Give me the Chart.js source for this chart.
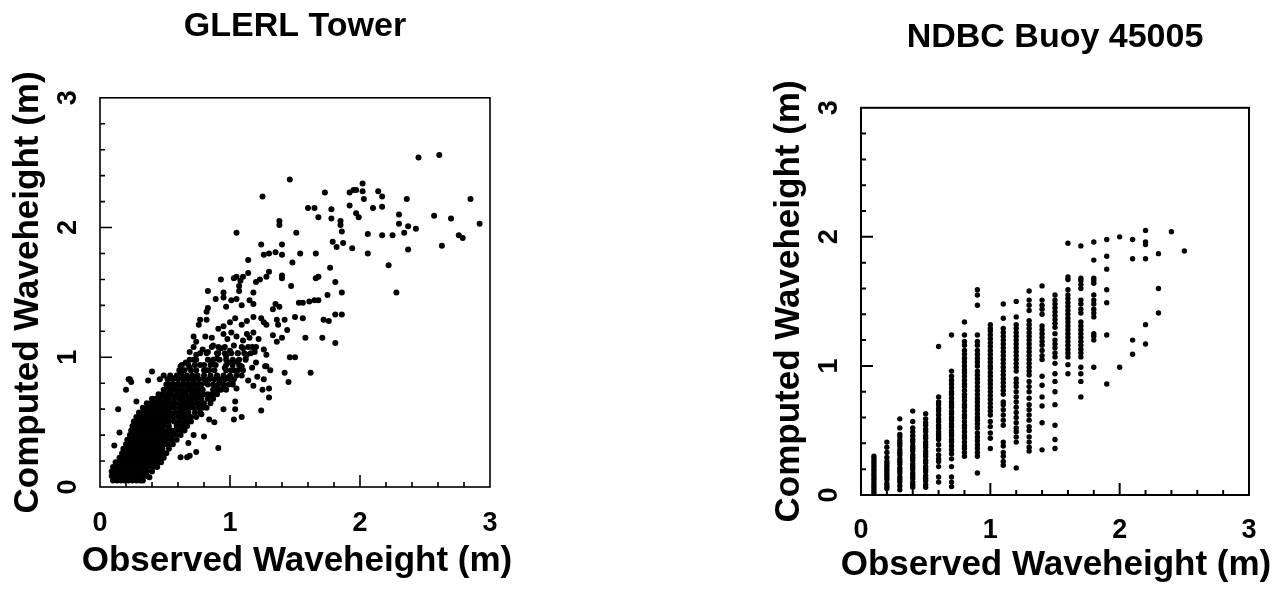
<!DOCTYPE html>
<html>
<head>
<meta charset="utf-8">
<script src="https://cdn.jsdelivr.net/npm/chart.js@4.4.0/dist/chart.umd.min.js"></script>
<style>
  body { margin: 0; background: #fff; width: 1282px; height: 590px; overflow: hidden; position: relative; }
  .box { position: absolute; top: 0; height: 590px; }
  #leftBox { left: 0; width: 560px; }
  #rightBox { left: 760px; width: 522px; }
</style>
</head>
<body>
<div class="box" id="leftBox"><canvas id="glerlChart"></canvas></div>
<div class="box" id="rightBox"><canvas id="buoyChart"></canvas></div>
<script>
// 左: GLERL Tower の散布図データ（密集部は行ごとに読み取り）
const glerlCoreY = [0.05, 0.085, 0.12, 0.155, 0.19, 0.225, 0.26, 0.295, 0.33, 0.365, 0.40, 0.435,
  0.47, 0.505, 0.54, 0.575, 0.61, 0.645, 0.68, 0.715, 0.75, 0.79, 0.83, 0.86, 0.90, 0.94, 0.98,
  1.03, 1.08];
const glerlCoreX = [
  [0.10, 0.13, 0.16, 0.19, 0.22, 0.25, 0.28, 0.31, 0.33],
  [0.09, 0.12, 0.15, 0.18, 0.21, 0.24, 0.27, 0.30, 0.33, 0.36],
  [0.09, 0.12, 0.15, 0.18, 0.21, 0.24, 0.27, 0.30, 0.33, 0.36, 0.40],
  [0.10, 0.13, 0.16, 0.19, 0.22, 0.25, 0.28, 0.31, 0.34, 0.37, 0.41, 0.44],
  [0.12, 0.15, 0.18, 0.21, 0.24, 0.27, 0.30, 0.33, 0.36, 0.39, 0.42, 0.45, 0.47],
  [0.15, 0.18, 0.21, 0.24, 0.27, 0.30, 0.33, 0.36, 0.39, 0.42, 0.45, 0.49],
  [0.17, 0.20, 0.23, 0.26, 0.29, 0.32, 0.35, 0.38, 0.41, 0.44, 0.47, 0.51],
  [0.18, 0.21, 0.24, 0.27, 0.30, 0.33, 0.36, 0.39, 0.42, 0.45, 0.48, 0.53],
  [0.20, 0.23, 0.26, 0.29, 0.32, 0.35, 0.38, 0.41, 0.44, 0.47, 0.50, 0.53, 0.56],
  [0.21, 0.24, 0.27, 0.30, 0.33, 0.36, 0.39, 0.42, 0.45, 0.48, 0.51, 0.55, 0.59],
  [0.23, 0.26, 0.29, 0.32, 0.35, 0.38, 0.41, 0.44, 0.47, 0.50, 0.53, 0.56, 0.59, 0.62],
  [0.24, 0.27, 0.30, 0.33, 0.36, 0.39, 0.42, 0.45, 0.48, 0.52, 0.55, 0.58, 0.62, 0.65],
  [0.25, 0.28, 0.31, 0.34, 0.37, 0.40, 0.43, 0.46, 0.49, 0.53, 0.59, 0.62, 0.65, 0.67],
  [0.26, 0.29, 0.32, 0.35, 0.38, 0.41, 0.44, 0.47, 0.50, 0.53, 0.57, 0.61, 0.64, 0.67, 0.70],
  [0.28, 0.31, 0.34, 0.37, 0.40, 0.43, 0.46, 0.49, 0.52, 0.56, 0.60, 0.63, 0.66, 0.70, 0.74],
  [0.30, 0.33, 0.36, 0.39, 0.42, 0.45, 0.48, 0.51, 0.54, 0.58, 0.61, 0.64, 0.68, 0.73, 0.77],
  [0.33, 0.36, 0.39, 0.42, 0.45, 0.48, 0.51, 0.54, 0.57, 0.61, 0.64, 0.66, 0.69, 0.72, 0.76, 0.79, 0.82],
  [0.36, 0.39, 0.42, 0.45, 0.48, 0.51, 0.55, 0.58, 0.62, 0.65, 0.67, 0.71, 0.75, 0.78, 0.80, 0.85],
  [0.40, 0.43, 0.46, 0.50, 0.53, 0.57, 0.61, 0.64, 0.68, 0.71, 0.74, 0.78, 0.83, 0.87],
  [0.45, 0.48, 0.52, 0.55, 0.59, 0.63, 0.66, 0.70, 0.73, 0.76, 0.80, 0.83, 0.86, 0.90],
  [0.49, 0.52, 0.55, 0.58, 0.61, 0.64, 0.67, 0.70, 0.73, 0.76, 0.79, 0.87, 0.90, 0.93, 0.97],
  [0.51, 0.54, 0.57, 0.60, 0.63, 0.66, 0.69, 0.72, 0.75, 0.78, 0.83, 0.87, 0.91, 0.95, 0.99, 1.02],
  [0.52, 0.56, 0.60, 0.64, 0.68, 0.72, 0.76, 0.80, 0.84, 0.88, 0.92, 0.96, 1.00, 1.03],
  [0.59, 0.63, 0.67, 0.71, 0.75, 0.80, 0.85, 0.90, 0.95, 1.00, 1.05],
  [0.61, 0.65, 0.70, 0.74, 0.80, 0.84, 0.88, 0.97, 1.01, 1.06, 1.10],
  [0.63, 0.68, 0.73, 0.80, 0.85, 0.89, 0.97, 1.02, 1.07],
  [0.69, 0.74, 0.83, 0.87, 0.92, 0.97, 1.02, 1.07, 1.12],
  [0.77, 0.82, 0.91, 0.96, 1.01, 1.06, 1.11, 1.16],
  [0.86, 0.91, 0.96, 1.09, 1.14, 1.20],
];
// 左: 散らばった点 [観測, 計算]
const glerlScatter = [
  [0.11, 0.32], [0.15, 0.42], [0.14, 0.60], [0.20, 0.75], [0.22, 0.83], [0.24, 0.81], [0.23, 0.83],
  [0.28, 0.66], [0.37, 0.82], [0.40, 0.89], [0.46, 0.83], [0.49, 0.86], [0.38, 0.075],
  [0.62, 0.23], [0.67, 0.23], [0.69, 0.24], [0.74, 0.27], [0.68, 0.34], [0.72, 0.40], [0.80, 0.39],
  [0.91, 0.30], [0.78, 0.56], [0.84, 0.52], [0.88, 0.50], [0.95, 0.60], [1.03, 0.52], [1.04, 0.60],
  [1.04, 0.66], [1.09, 0.54], [1.24, 0.59], [1.25, 0.75], [1.26, 0.83], [1.30, 0.76], [1.30, 0.69],
  [1.45, 0.81], [1.42, 0.88], [1.62, 0.88], [1.28, 0.93], [1.21, 0.85], [1.31, 0.90],
  [0.54, 0.86], [0.58, 0.84], [0.62, 0.87], [0.64, 0.80], [0.68, 0.78], [0.72, 0.82], [0.82, 0.80],
  [0.85, 0.84], [0.88, 0.78], [0.92, 0.82], [0.95, 0.76], [0.98, 0.84], [1.02, 0.80], [1.05, 0.76],
  [1.09, 0.86], [1.14, 0.82], [1.18, 0.78], [0.85, 0.70], [0.90, 0.72],
  [0.62, 0.93], [0.66, 0.96], [0.69, 0.92], [0.72, 0.98], [0.77, 0.94], [0.82, 0.90], [0.86, 0.95],
  [0.90, 0.99], [0.96, 0.92], [0.99, 0.96], [1.03, 0.90], [1.05, 0.97], [1.09, 0.93], [1.12, 0.99],
  [1.17, 0.92], [1.20, 0.96], [1.27, 0.93],
  [0.69, 1.04], [0.72, 1.08], [0.74, 1.02], [0.79, 1.06], [0.83, 1.04], [0.87, 1.09], [0.90, 1.03],
  [0.93, 1.07], [0.97, 1.01], [1.00, 1.05], [1.03, 1.09], [1.06, 1.03], [1.10, 1.07], [1.13, 1.02],
  [1.17, 1.08], [1.19, 1.04], [1.26, 1.06], [1.28, 1.02], [1.46, 1.00], [1.50, 1.00],
  [0.72, 1.16], [0.74, 1.12], [0.81, 1.16], [0.86, 1.15], [0.95, 1.18], [0.98, 1.14], [1.01, 1.19],
  [1.05, 1.16], [1.10, 1.13], [1.13, 1.18], [1.15, 1.15], [1.18, 1.19], [1.22, 1.14], [1.33, 1.17],
  [1.36, 1.12], [1.40, 1.15], [1.58, 1.15], [1.71, 1.15], [1.81, 1.11],
  [0.76, 1.25], [0.77, 1.29], [0.82, 1.29], [0.91, 1.22], [0.95, 1.24], [1.00, 1.27], [1.04, 1.30],
  [1.09, 1.25], [1.13, 1.28], [1.18, 1.31], [1.24, 1.30], [1.26, 1.27], [1.28, 1.25], [1.36, 1.29],
  [1.37, 1.25], [1.42, 1.29], [1.44, 1.21], [1.50, 1.31], [1.56, 1.30], [1.72, 1.29], [1.76, 1.28],
  [1.81, 1.33], [1.86, 1.33],
  [0.82, 1.35], [0.83, 1.38], [0.89, 1.45], [0.97, 1.39], [1.01, 1.44], [1.05, 1.45], [1.09, 1.40],
  [1.15, 1.44], [1.18, 1.41], [1.33, 1.37], [1.35, 1.41], [1.38, 1.39], [1.53, 1.42], [1.56, 1.42],
  [1.61, 1.43], [1.65, 1.44], [1.68, 1.44],
  [0.83, 1.51], [0.93, 1.60], [0.95, 1.50], [0.95, 1.46], [1.03, 1.61], [1.05, 1.62], [1.07, 1.55],
  [1.07, 1.51], [1.08, 1.59], [1.10, 1.62], [1.14, 1.65], [1.18, 1.50], [1.20, 1.58], [1.23, 1.60],
  [1.28, 1.62], [1.30, 1.66], [1.40, 1.61], [1.40, 1.63], [1.47, 1.55], [1.75, 1.48], [1.86, 1.50],
  [1.68, 1.62], [1.66, 1.61], [1.81, 1.58],
  [1.14, 1.75], [1.48, 1.73], [1.77, 1.69], [1.26, 1.79], [1.30, 1.80], [1.35, 1.81], [1.40, 1.79],
  [1.54, 1.80], [1.66, 1.80], [1.24, 1.87], [1.40, 1.87], [1.79, 1.89], [1.82, 1.85], [1.87, 1.88],
  [1.94, 1.84], [2.06, 1.80], [1.05, 1.96], [1.51, 1.96], [1.38, 2.05], [1.38, 2.02],
  [2.45, 2.54], [2.61, 2.56], [1.46, 2.37], [1.25, 2.24], [1.73, 2.27], [1.92, 2.27], [1.95, 2.29],
  [1.97, 2.29], [2.02, 2.34], [2.02, 2.28], [2.03, 2.22], [2.14, 2.28], [2.17, 2.24], [2.36, 2.22],
  [2.85, 2.22], [1.60, 2.15], [1.65, 2.15], [1.68, 2.08], [1.78, 2.14], [1.78, 2.07], [1.85, 2.05],
  [1.85, 2.02], [1.86, 1.97], [1.92, 2.17], [1.97, 2.11], [1.99, 2.08], [2.10, 2.15], [2.17, 2.16],
  [2.30, 2.10], [2.30, 2.03], [2.37, 2.01], [2.34, 1.96], [2.43, 1.99], [2.57, 2.09], [2.70, 2.07],
  [2.76, 1.94], [2.79, 1.92], [2.92, 2.03], [2.63, 1.86], [2.37, 1.83], [2.22, 1.71], [2.28, 1.50],
  [2.06, 1.95], [2.17, 1.94], [2.25, 1.94],
];

// 右: NDBC Buoy 45005（観測値は 0.1 m 刻みの列）
const buoyObs = [0.1, 0.2, 0.3, 0.4, 0.5, 0.6, 0.7, 0.8, 0.9, 1.0, 1.1, 1.2, 1.3,
  1.4, 1.5, 1.6, 1.7, 1.8, 1.9, 2.0, 2.1, 2.2, 2.3, 2.4, 2.5];
const buoyComp = [
  [0.0, 0.02, 0.04, 0.06, 0.08, 0.1, 0.12, 0.14, 0.16, 0.18, 0.2, 0.22, 0.24, 0.26, 0.28, 0.3],
  [0.05, 0.07, 0.09, 0.12, 0.14, 0.16, 0.18, 0.2, 0.22, 0.24, 0.26, 0.29, 0.33, 0.37, 0.41],
  [0.04, 0.07, 0.1, 0.12, 0.14, 0.17, 0.19, 0.21, 0.24, 0.26, 0.28, 0.31, 0.33, 0.35, 0.38, 0.4,
    0.42, 0.45, 0.47, 0.52, 0.59],
  [0.06, 0.08, 0.1, 0.13, 0.15, 0.17, 0.2, 0.22, 0.24, 0.27, 0.29, 0.31, 0.34, 0.36, 0.38, 0.41,
    0.43, 0.46, 0.49, 0.52, 0.57, 0.65],
  [0.06, 0.08, 0.11, 0.13, 0.15, 0.18, 0.2, 0.22, 0.25, 0.27, 0.3, 0.32, 0.34, 0.37, 0.39, 0.41,
    0.44, 0.46, 0.49, 0.51, 0.54, 0.56, 0.59, 0.63],
  [0.1, 0.14, 0.22, 0.26, 0.28, 0.31, 0.35, 0.39, 0.43, 0.45, 0.47, 0.49, 0.52, 0.54, 0.57, 0.59,
    0.62, 0.65, 0.67, 0.7, 0.72, 0.76, 1.15],
  [0.065, 0.1, 0.14, 0.22, 0.28, 0.32, 0.35, 0.38, 0.41, 0.43, 0.46, 0.48, 0.5, 0.53, 0.55, 0.58,
    0.6, 0.63, 0.65, 0.68, 0.7, 0.72, 0.75, 0.78, 0.8, 0.83, 0.86, 0.89, 0.92, 0.96, 1.24],
  [0.3, 0.33, 0.36, 0.38, 0.41, 0.44, 0.46, 0.49, 0.52, 0.54, 0.57, 0.6, 0.62, 0.65, 0.68, 0.7,
    0.73, 0.76, 0.78, 0.81, 0.84, 0.86, 0.89, 0.92, 0.95, 0.97, 1.0, 1.03, 1.06, 1.09, 1.12, 1.16,
    1.19, 1.24, 1.34],
  [0.17, 0.3, 0.33, 0.36, 0.39, 0.42, 0.45, 0.48, 0.52, 0.55, 0.58, 0.6, 0.63, 0.66, 0.69, 0.72,
    0.75, 0.78, 0.81, 0.84, 0.87, 0.9, 0.93, 0.96, 1.0, 1.03, 1.06, 1.09, 1.12, 1.16, 1.19, 1.24,
    1.47, 1.55, 1.59],
  [0.36, 0.44, 0.48, 0.53, 0.57, 0.62, 0.65, 0.68, 0.71, 0.74, 0.77, 0.8, 0.83, 0.86, 0.89, 0.92,
    0.95, 0.98, 1.0, 1.03, 1.06, 1.09, 1.12, 1.15, 1.18, 1.21, 1.24, 1.27, 1.29, 1.32],
  [0.23, 0.26, 0.3, 0.33, 0.38, 0.41, 0.54, 0.58, 0.62, 0.66, 0.7, 0.72, 0.78, 0.81, 0.84, 0.87,
    0.9, 0.93, 0.96, 0.99, 1.02, 1.05, 1.08, 1.11, 1.14, 1.17, 1.2, 1.23, 1.26, 1.29, 1.37, 1.48],
  [0.21, 0.41, 0.45, 0.49, 0.52, 0.56, 0.6, 0.64, 0.68, 0.72, 0.76, 0.8, 0.84, 0.87, 0.9, 0.96,
    0.99, 1.02, 1.05, 1.08, 1.11, 1.14, 1.17, 1.2, 1.23, 1.26, 1.29, 1.32, 1.38, 1.5],
  [0.34, 0.37, 0.41, 0.45, 0.5, 0.53, 0.58, 0.62, 0.66, 0.7, 0.75, 0.8, 0.84, 0.88, 0.93, 0.96,
    0.99, 1.02, 1.05, 1.08, 1.11, 1.14, 1.17, 1.2, 1.23, 1.26, 1.29, 1.32, 1.35, 1.43, 1.47, 1.51,
    1.58],
  [0.35, 0.56, 0.69, 0.76, 0.85, 0.92, 1.05, 1.08, 1.12, 1.16, 1.19, 1.22, 1.25, 1.28, 1.31, 1.4,
    1.44, 1.47, 1.51, 1.62],
  [0.36, 0.43, 0.54, 0.7, 0.8, 0.88, 0.94, 1.02, 1.07, 1.1, 1.14, 1.17, 1.2, 1.25, 1.3, 1.33, 1.36,
    1.39, 1.42, 1.45, 1.48, 1.51, 1.55],
  [0.94, 1.01, 1.07, 1.1, 1.13, 1.16, 1.19, 1.22, 1.25, 1.28, 1.31, 1.34, 1.37, 1.4, 1.43, 1.46,
    1.49, 1.52, 1.55, 1.59, 1.67, 1.69, 1.95],
  [0.76, 0.88, 0.94, 0.99, 1.07, 1.1, 1.13, 1.16, 1.19, 1.22, 1.25, 1.28, 1.31, 1.34, 1.41, 1.44,
    1.48, 1.51, 1.6, 1.63, 1.66, 1.68, 1.93],
  [0.99, 1.2, 1.23, 1.25, 1.38, 1.41, 1.44, 1.48, 1.51, 1.55, 1.64, 1.66, 1.68, 1.82, 1.96],
  [0.86, 1.24, 1.49, 1.59, 1.75, 1.85, 1.98],
  [0.99, 2.0],
  [1.09, 1.2, 1.83, 1.98],
  [1.17, 1.32, 1.83, 1.94, 1.96, 2.05],
  [1.41, 1.6, 1.87],
  [2.04],
  [1.89],
];

const AXIS_TICKS = ["0", "1", "2", "3"];
const X_TITLE = "Observed Waveheight (m)";
const Y_TITLE = "Computed Waveheight (m)";
const FONT = "'Liberation Sans', Arial, Helvetica, sans-serif";

const isMajor = (v) => Math.abs(v - Math.round(v)) < 1e-6;

/**
 * 枠線・内向きの目盛り線・x 軸タイトルを描く。
 * x 軸タイトルは Chart.js だと軸幅に縮められるので、ここで描く。
 */
const frameTicks = {
  id: "frameTicks",
  afterDatasetsDraw(chart, args, opts) {
    const { ctx, chartArea: a } = chart;
    const xs = chart.scales.x;
    const ys = chart.scales.y;
    ctx.save();
    ctx.strokeStyle = "#000";
    ctx.lineWidth = opts.lineWidth;
    ctx.strokeRect(a.left, a.top, a.right - a.left, a.bottom - a.top);
    ctx.beginPath();
    xs.ticks.forEach((t) => {
      if (t.value <= 0 || t.value >= 3) return;
      const len = isMajor(t.value) ? opts.major : opts.minor;
      const px = xs.getPixelForValue(t.value);
      ctx.moveTo(px, a.bottom);
      ctx.lineTo(px, a.bottom - len);
    });
    ys.ticks.forEach((t) => {
      if (t.value <= 0 || t.value >= 3) return;
      const len = isMajor(t.value) ? opts.major : opts.minor;
      const py = ys.getPixelForValue(t.value);
      ctx.moveTo(a.left, py);
      ctx.lineTo(a.left + len, py);
    });
    ctx.stroke();

    ctx.fillStyle = "#000";
    ctx.font = `bold 35px ${FONT}`;
    ctx.textAlign = "center";
    ctx.textBaseline = "middle";
    ctx.fillText(opts.xTitle, (a.left + a.right) / 2 + opts.xTitleShift, opts.xTitleY);
    ctx.restore();
  },
};

const tickLabel = (v) => (isMajor(v) ? AXIS_TICKS[Math.round(v)] : "");

/**
 * 散布図を作る。l はレイアウト用の数値。
 */
const makeChart = (id, title, points, l) => {
  const ctx = document.getElementById(id).getContext("2d");
  return new Chart(ctx, {
    type: "scatter",
    data: {
      datasets: [
        {
          data: points,
          pointRadius: l.radius,
          pointHoverRadius: l.radius,
          pointBackgroundColor: "#000",
          pointBorderWidth: 0,
          borderColor: "#000",
        },
      ],
    },
    plugins: [frameTicks],
    options: {
      animation: false,
      responsive: true,
      maintainAspectRatio: false,
      events: [],
      layout: { padding: { left: 4, right: l.padRight, top: 0, bottom: 0 } },
      plugins: {
        legend: { display: false },
        tooltip: { enabled: false },
        title: {
          display: true,
          text: title,
          fullSize: false,
          color: "#000",
          font: { family: FONT, size: 34, weight: "bold" },
          padding: { top: l.titleTop, bottom: l.titleBottom },
        },
        frameTicks: {
          lineWidth: l.lineWidth, major: 12, minor: 5,
          xTitle: X_TITLE, xTitleY: l.xTitleY, xTitleShift: l.xTitleShift,
        },
      },
      scales: {
        x: {
          type: "linear",
          min: 0,
          max: 3,
          afterFit: (s) => { s.height = l.xHeight; },
          grid: { display: false, drawTicks: false },
          border: { display: false },
          ticks: {
            stepSize: 0.2,
            autoSkip: false,
            maxRotation: 0,
            padding: l.xTickPad,
            color: "#000",
            font: { family: FONT, size: 27, weight: "bold" },
            callback: tickLabel,
          },
          title: { display: false },
        },
        y: {
          type: "linear",
          min: 0,
          max: 3,
          afterFit: (s) => { s.width = l.yWidth; },
          grid: { display: false, drawTicks: false },
          border: { display: false },
          ticks: {
            stepSize: 0.2,
            autoSkip: false,
            minRotation: 90,
            maxRotation: 90,
            crossAlign: "center",
            padding: l.yTickPad,
            color: "#000",
            font: { family: FONT, size: 27, weight: "bold" },
            callback: tickLabel,
          },
          title: {
            display: true,
            text: Y_TITLE,
            color: "#000",
            font: { family: FONT, size: 35, weight: "bold" },
            padding: { top: l.yTitlePad, bottom: 0 },
          },
        },
      },
    },
  });
};

const glerlPoints = [];
glerlCoreY.forEach((y, i) => glerlCoreX[i].forEach((x) => glerlPoints.push({ x, y })));
glerlScatter.forEach(([x, y]) => glerlPoints.push({ x, y }));

const buoyPoints = [];
buoyObs.forEach((x, i) => buoyComp[i].forEach((y) => buoyPoints.push({ x, y })));

makeChart("glerlChart", "GLERL Tower", glerlPoints, {
  radius: 3, lineWidth: 1.6, padRight: 70, titleTop: 6, titleBottom: 51,
  xHeight: 103, xTickPad: 20, xTitleY: 561, xTitleShift: 2, yWidth: 96, yTickPad: 24, yTitlePad: 3,
});
makeChart("buoyChart", "NDBC Buoy 45005", buoyPoints, {
  radius: 2.7, lineWidth: 2, padRight: 33, titleTop: 17, titleBottom: 50,
  xHeight: 95, xTickPad: 19, xTitleY: 565, xTitleShift: 1, yWidth: 97, yTickPad: 24, yTitlePad: 4,
});
</script>
</body>
</html>
